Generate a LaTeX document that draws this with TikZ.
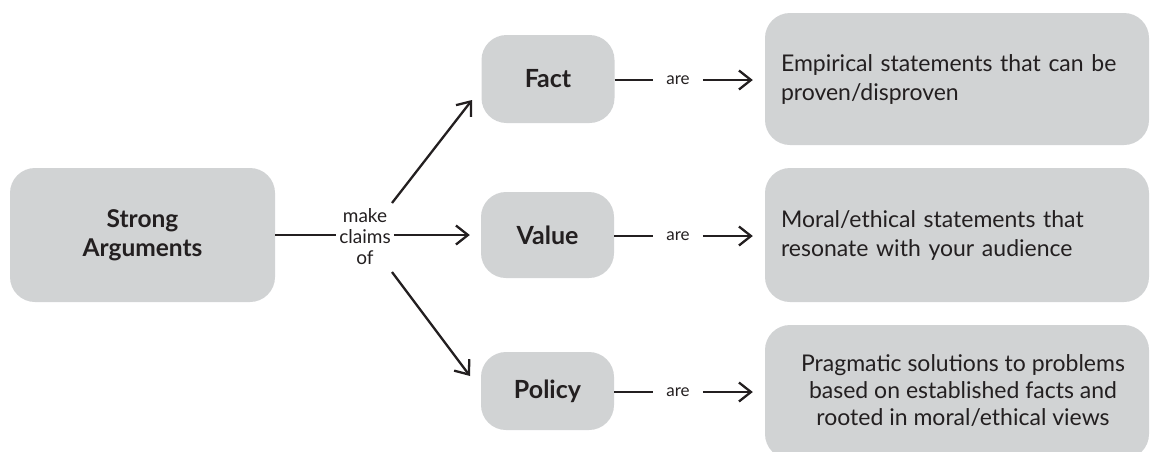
\documentclass[tikz,border=0pt]{standalone}
\usepackage{fontspec}
\setmainfont{Lato}
\usetikzlibrary{arrows.meta}
\definecolor{boxgray}{RGB}{209,211,212}
\definecolor{ink}{RGB}{35,31,32}
\begin{document}
\begin{tikzpicture}[x=1pt,y=-1pt,
  box/.style={fill=boxgray, rounded corners=25pt, text=ink, inner sep=0pt},
  small/.style={box, minimum width=133pt, font=\fontsize{25}{30}\selectfont\bfseries},
  big/.style={box, minimum width=384pt, text width=352pt, inner xsep=16pt, font=\fontsize{23}{29}\selectfont},
  lbl/.style={text=ink, inner ysep=0pt, align=center},
  link/.style={draw=ink, line width=2.3pt},
  arr/.style={link, -{Straight Barb[length=12pt,width=19pt]}}
]
\useasboundingbox (0,0) rectangle (1150,451);
\clip (0,0) rectangle (1150,451);

% left box
\node[box, minimum width=265pt, minimum height=134pt, align=center,
      font=\fontsize{24.5}{29}\selectfont\bfseries] (strong) at (142.5,235) {Strong\\Arguments};

% middle boxes
\node[small, minimum height=88pt] (fact) at (548,79) {Fact};
\node[small, minimum height=86pt] (value) at (547.5,235) {Value};
\node[small, minimum height=78pt] (policy) at (547.5,391) {Policy};

% right boxes
\node[big, minimum height=132pt, align=left] (factR) at (957,79)
  {Empirical statements that can be\\proven/disproven};
\node[big, minimum height=134pt, align=left] (valueR) at (957,235)
  {Moral/ethical statements that\\resonate with your audience};
\node[box, minimum width=384pt, minimum height=134pt] (policyR) at (957,392) {};
\node[lbl, inner sep=0pt, font=\fontsize{23}{27}\selectfont] (policyT) at (963,391)
  {Pragmatic solutions to problems\\based on established facts and\\rooted in moral/ethical views};

% label make claims of
\node[lbl, inner xsep=3pt, font=\fontsize{19}{21}\selectfont] (claims) at (365,237) {make\\claims\\of};

% connectors from Strong Arguments
\draw[link] (strong.east) -- (strong.east -| claims.west);
\draw[arr, shorten >=11pt] (value.west -| claims.east) -- (value.west);
\coordinate (d1s) at (392,203);
\coordinate (d1e) at (472,100);
\coordinate (d2s) at (392,272);
\coordinate (d2e) at (470,376);
\draw[arr] (d1s) -- (d1e);
\draw[arr] (d2s) -- (d2e);

% "are" labels
\node[lbl, inner xsep=13pt, font=\fontsize{17}{20}\selectfont] (are1) at (678,80) {are};
\node[lbl, inner xsep=13pt, font=\fontsize{17}{20}\selectfont] (are2) at (678,236) {are};
\node[lbl, inner xsep=13pt, font=\fontsize{17}{20}\selectfont] (are3) at (678,392) {are};

\draw[link] (fact.east |- are1) -- (are1.west);
\draw[arr, shorten >=12pt] (are1.east) -- (factR.west |- are1);
\draw[link] (value.east |- are2) -- (are2.west);
\draw[arr, shorten >=12pt] (are2.east) -- (valueR.west |- are2);
\draw[link] (policy.east |- are3) -- (are3.west);
\draw[arr, shorten >=12pt] (are3.east) -- (policyR.west |- are3);
\end{tikzpicture}
\end{document}
